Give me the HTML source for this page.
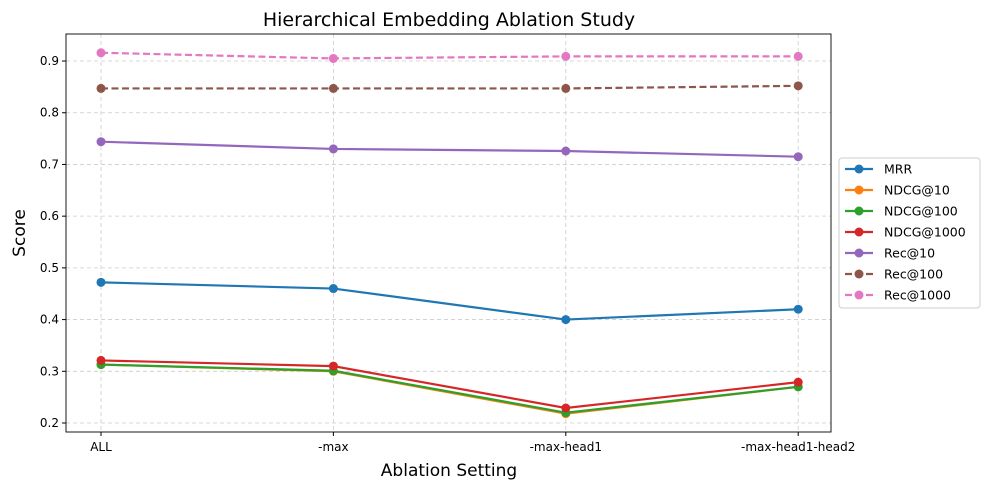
<!DOCTYPE html>
<html><head><meta charset="utf-8"><style>
body{margin:0;background:#fff;font-family:"Liberation Sans","DejaVu Sans",sans-serif;}
svg text{font-family:"DejaVu Sans","Liberation Sans",sans-serif;}
</style></head><body>
<svg id="chart" width="990" height="490"></svg>
<script>
const categories=["ALL","-max","-max-head1","-max-head1-head2"];
const seriesNames=["MRR","NDCG@10","NDCG@100","NDCG@1000","Rec@10","Rec@100","Rec@1000"];
const mrr=[0.472,0.460,0.400,0.420];
const ndcg10=[0.313,0.300,0.218,0.270];
const ndcg100=[0.313,0.301,0.220,0.270];
const ndcg1000=[0.321,0.310,0.229,0.279];
const rec10=[0.744,0.730,0.726,0.715];
const rec100=[0.847,0.847,0.847,0.852];
const rec1000=[0.916,0.905,0.909,0.909];
const yTicks=[0.2,0.3,0.4,0.5,0.6,0.7,0.8,0.9];
const seriesValues=[mrr,ndcg10,ndcg100,ndcg1000,rec10,rec100,rec1000];
const colors=["#1f77b4","#ff7f0e","#2ca02c","#d62728","#9467bd","#8c564b","#e377c2"];
const dashed=[false,false,false,false,false,true,true];
const NS="http://www.w3.org/2000/svg";
const svg=document.getElementById('chart');
const L=66,R=831,T=34,B=432;
const x=i=>101+i*232.4;
const y=v=>423-(v-0.2)*517.1;
function el(t,a,p){const e=document.createElementNS(NS,t);for(const k in a)e.setAttribute(k,a[k]);(p||svg).appendChild(e);return e;}
// grid
yTicks.forEach(v=>{
 const g=el('line',{x1:L,x2:R,y1:y(v),y2:y(v),stroke:'#ccc','stroke-dasharray':'4,3','stroke-width':0.8});
 
 
 el('line',{x1:L-4,x2:L,y1:y(v),y2:y(v),stroke:'#000'});
 const t=el('text',{x:L-7,y:y(v)+4,'text-anchor':'end','font-size':12});t.textContent=v.toFixed(1);
 
 
});
categories.forEach((c,i)=>{
 const g=el('line',{x1:x(i),x2:x(i),y1:T,y2:B,stroke:'#ccc','stroke-dasharray':'4,3','stroke-width':0.8});
 
 
 el('line',{x1:x(i),x2:x(i),y1:B,y2:B+4,stroke:'#000'});
 const t=el('text',{x:x(i),y:B+19,'text-anchor':'middle','font-size':12});t.textContent=c;
 
 
});
const frame=el('rect',{x:L,y:T,width:R-L,height:B-T,fill:'none',stroke:'#000','stroke-width':0.9});


seriesValues.forEach((vals,s)=>{
 const p=el('polyline',{points:vals.map((v,i)=>x(i)+','+y(v)).join(' '),fill:'none',stroke:colors[s],'stroke-width':2.2,'stroke-dasharray':dashed[s]?'7,3.5':'none'});
 
 
 vals.forEach((v,i)=>{
  const c=el('circle',{cx:x(i),cy:y(v),r:4.5,fill:colors[s]});
  
  
 });
});
let t=el('text',{x:449,y:26,'text-anchor':'middle','font-size':19});t.textContent='Hierarchical Embedding Ablation Study';


t=el('text',{x:449,y:476,'text-anchor':'middle','font-size':17});t.textContent='Ablation Setting';


t=el('text',{x:25,y:233,'text-anchor':'middle','font-size':17,transform:'rotate(-90 25 233)'});t.textContent='Score';


const lg=el('rect',{x:839,y:158,width:141,height:150,fill:'#fff',stroke:'#ccc',rx:3});


seriesNames.forEach((n,s)=>{
 const yy=169+s*21;
 el('line',{x1:845,x2:873,y1:yy,y2:yy,stroke:colors[s],'stroke-width':2.2,'stroke-dasharray':dashed[s]?'7,3.5':'none'});
 el('circle',{cx:859,cy:yy,r:4.5,fill:colors[s]});
 const tt=el('text',{x:884,y:yy+4.5,'font-size':12.5});tt.textContent=n;
 
 
});
</script>
</body></html>
